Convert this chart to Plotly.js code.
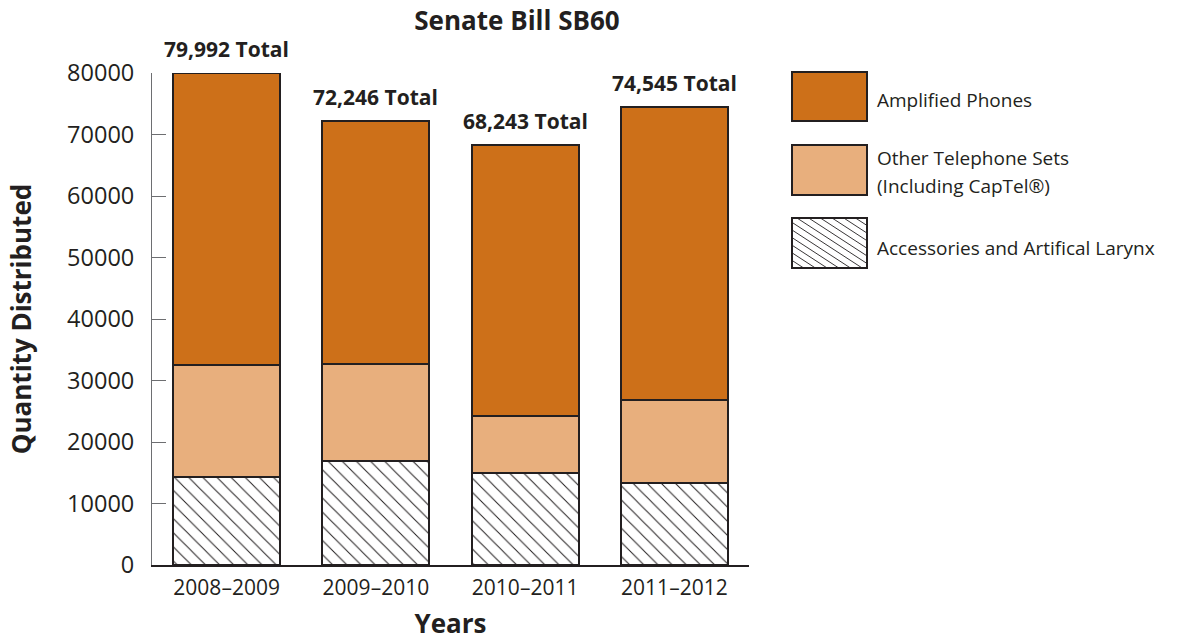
<!DOCTYPE html>
<html>
<head>
<meta charset="utf-8">
<script src="https://cdn.plot.ly/plotly-3.0.1.min.js"></script>
<style>html,body{margin:0;padding:0;background:#fff;}#chart{width:1183px;height:641px;}</style>
</head>
<body>
<div id="chart"></div>
<script>
var years = ['2008–2009', '2009–2010', '2010–2011', '2011–2012'];
var accessories = [14350, 16960, 15010, 13380];
var otherSets = [18170, 15670, 9220, 13450];
var amplified = [47472, 39616, 44013, 47715];
var totals = [79992, 72246, 68243, 74545];
var yTicks = [0, 10000, 20000, 30000, 40000, 50000, 60000, 70000, 80000];
var legendNames = ['Amplified Phones', 'Other Telephone Sets<br>(Including CapTel®)', 'Accessories and Artifical Larynx'];

var INK = '#231f20';
var FONT = 'Open Sans, sans-serif';
var C_AMP = '#cd7019';
var C_OTH = '#e8af7d';

var W = 1183, H = 641, L = 152, R = 749, T = 73, B = 565;
function xp(px) { return (px - L) / (R - L); }
function yp(py) { return (B - py) / (B - T); }

var lineStyle = {color: INK, width: 2};
var traces = [
  {type: 'bar', x: years, y: accessories, name: legendNames[2], cliponaxis: false,
   marker: {color: 'white', line: lineStyle,
     pattern: {shape: '\\', size: 10, solidity: 0.1, fgcolor: INK, bgcolor: 'white', fillmode: 'replace'}}},
  {type: 'bar', x: years, y: otherSets, name: legendNames[1], cliponaxis: false,
   marker: {color: C_OTH, line: lineStyle}},
  {type: 'bar', x: years, y: amplified, name: legendNames[0], cliponaxis: false,
   marker: {color: C_AMP, line: lineStyle}}
];

var annotations = years.map(function (yr, i) {
  return {x: yr, y: totals[i], xref: 'x', yref: 'y', text: totals[i].toLocaleString('en-US') + ' Total',
    showarrow: false, yanchor: 'middle', yshift: 24,
    font: {family: FONT, size: 21, color: INK, weight: 'bold'}};
});

// custom legend
var boxes = [[72, 121], [145, 195], [218, 268]];
var bx0 = 792, bx1 = 867;
var fills = [C_AMP, C_OTH, 'white'];
var shapes = [];
boxes.forEach(function (b, i) {
  shapes.push({type: 'rect', xref: 'paper', yref: 'paper', x0: xp(bx0), x1: xp(bx1), y0: yp(b[1]), y1: yp(b[0]),
    fillcolor: fills[i], line: {color: INK, width: 2}, layer: 'above'});
});
// hatch lines for third legend box (screen slope ~0.65)
(function () {
  var y0 = boxes[2][0], y1 = boxes[2][1], s = 0.65, step = 11.7;
  for (var d = bx0 - (y1 - y0) / s; d < bx1; d += step) {
    var ya = Math.max(y0, y0 + (bx0 - d) * s), yb = Math.min(y1, y0 + (bx1 - d) * s);
    if (yb <= ya) continue;
    var xa = d + (ya - y0) / s, xb = d + (yb - y0) / s;
    shapes.push({type: 'line', xref: 'paper', yref: 'paper', x0: xp(xa), y0: yp(ya), x1: xp(xb), y1: yp(yb),
      line: {color: INK, width: 0.9}, layer: 'above'});
  }
})();
shapes.push({type: 'rect', xref: 'paper', yref: 'paper', x0: xp(bx0), x1: xp(bx1), y0: yp(boxes[2][1]), y1: yp(boxes[2][0]),
  fillcolor: 'rgba(0,0,0,0)', line: {color: INK, width: 2}, layer: 'above'});

var legendTextY = [[100], [158, 186], [248]];
var legendLines = [['Amplified Phones'], ['Other Telephone Sets', '(Including CapTel®)'], ['Accessories and Artifical Larynx']];
legendLines.forEach(function (lines, i) {
  lines.forEach(function (t, j) {
    annotations.push({xref: 'paper', yref: 'paper', x: xp(875), y: yp(legendTextY[i][j]), xanchor: 'left', yanchor: 'middle',
      text: t, showarrow: false, font: {family: FONT, size: 19, color: INK}});
  });
});

var layout = {
  width: W, height: H,
  margin: {l: L, r: W - R, t: T, b: H - B, pad: 0},
  paper_bgcolor: 'white', plot_bgcolor: 'white',
  barmode: 'stack', bargap: 0.284, showlegend: false,
  title: {text: 'Senate Bill SB60', x: 517 / W, xanchor: 'center', xref: 'container', y: 1 - 21 / H, yanchor: 'middle', yref: 'container',
    font: {family: FONT, size: 26, color: INK, weight: 'bold'}},
  xaxis: {type: 'category', range: [-0.5, 3.5], automargin: false, showgrid: false, zeroline: false,
    showline: true, linecolor: INK, linewidth: 1.5, ticks: '', ticklabelstandoff: 3,
    tickfont: {family: FONT, size: 21, color: INK},
    title: {text: 'Years', standoff: 20, font: {family: FONT, size: 26, color: INK, weight: 'bold'}}},
  yaxis: {range: [0, 80000], automargin: false, showgrid: false, zeroline: false,
    showline: true, linecolor: '#6d6e71', linewidth: 1, ticks: 'inside', ticklen: 14, tickcolor: '#6d6e71', tickwidth: 1,
    tickvals: yTicks, ticktext: yTicks.map(String), ticklabelstandoff: 12,
    tickfont: {family: FONT, size: 23.5, color: INK},
    title: {text: 'Quantity Distributed', standoff: 28, font: {family: FONT, size: 26, color: INK, weight: 'bold'}}},
  annotations: annotations,
  shapes: shapes
};

Plotly.newPlot('chart', traces, layout, {displayModeBar: false, staticPlot: true});
</script>
</body>
</html>
